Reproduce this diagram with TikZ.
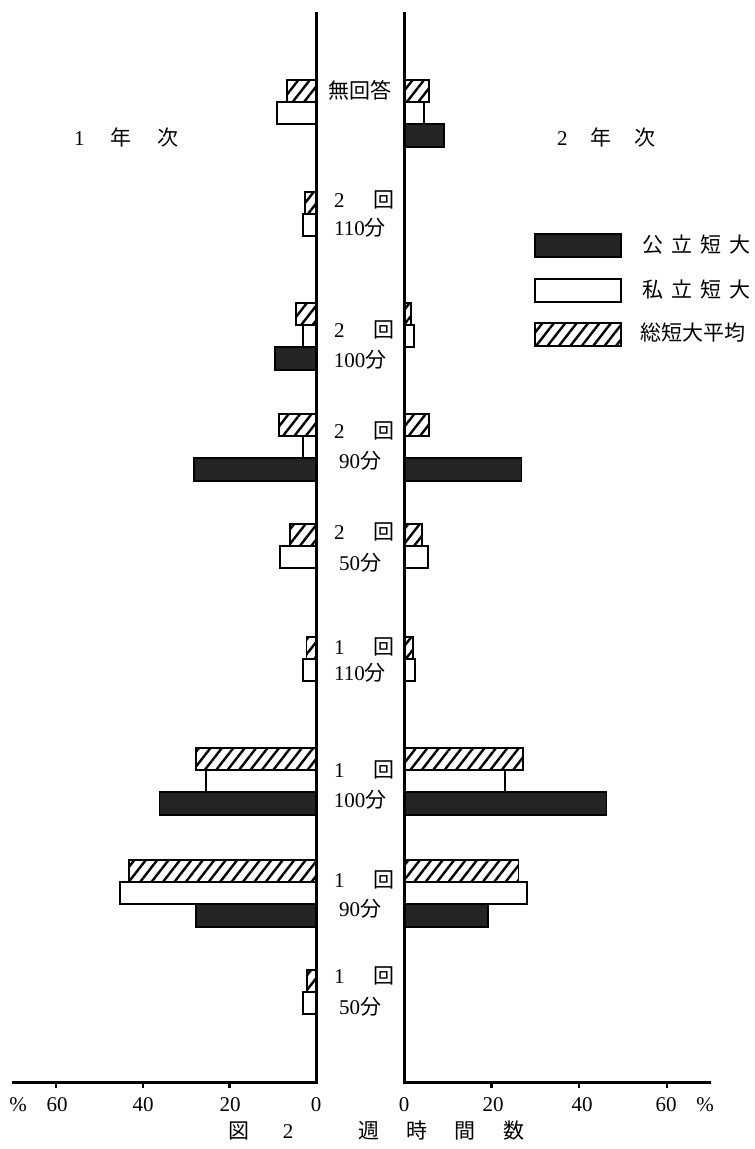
\documentclass[tikz,border=0pt]{standalone}
\usepackage{fontspec}
\setmainfont{Liberation Serif}
\newfontfamily\jp{Noto Sans CJK JP}
\usetikzlibrary{patterns.meta}
\tikzset{
  axisline/.style={line width=3pt},
  hatchbar/.style={draw,line width=1.8pt,pattern={Lines[angle=52,distance=9pt,line width=2.4pt]}},
  whitebar/.style={draw,line width=1.8pt,fill=white},
  darkbar/.style={draw,line width=1.8pt,fill=black!86},
  lab/.style={font=\fontsize{21}{23}\selectfont,inner sep=0pt}
}

\begin{document}
\begin{tikzpicture}[x=1pt,y=-1pt]
\useasboundingbox (0,0) rectangle (755,1149);
\foreach \yy/\lh/\lw/\ld/\rh/\rw/\rd in {80/6.7/9/0/5.7/4.6/9, 192/2.5/3/0/0/0/0,
    303/4.6/3/9.5/1.5/2.2/0, 414/8.5/3/28/5.7/0/26.7, 524/6/8.3/0/4/5.5/0,
    637/2.2/3/0/2/2.5/0, 748/27.6/25.3/36/27/23/46, 860/43/45/27.5/26/28/19,
    970/2/3/0/0/0/0}{
  \draw[whitebar] ({316-4.35*\lw},{\yy+22}) rectangle (316,{\yy+44});
  \draw[whitebar] (404,{\yy+22}) rectangle ({404+4.4*\rw},{\yy+44});
  \draw[hatchbar] ({316-4.35*\lh},\yy) rectangle (316,{\yy+22});
  \draw[hatchbar] (404,\yy) rectangle ({404+4.4*\rh},{\yy+22});
  \draw[darkbar] ({316-4.35*\ld},{\yy+44}) rectangle (316,{\yy+67});
  \draw[darkbar] (404,{\yy+44}) rectangle ({404+4.4*\rd},{\yy+67});
}
\draw[axisline] (316,12) -- (316,1082) -- (12,1082);
\draw[axisline] (404,12) -- (404,1082) -- (711,1082);
\foreach \p in {20,40,60}{
  \draw[line width=2.5pt] ({316-4.33*\p},1082) -- ++(0,6);
  \draw[line width=2.5pt] ({404+4.38*\p},1082) -- ++(0,6);
}

\node[lab] (noans) at (360,90) {\jp 無回答};
\foreach \n/\m/\ya/\yb [count=\i] in {2/110/200/228, 2/100/330/360, 2/90/431/461,
    2/50/532/563, 1/110/647/673, 1/100/770/800, 1/90/880/909, 1/50/976/1007}{
  \node[lab,anchor=west] (times\i) at (334,\ya) {\n\hspace{1.35em}{\jp 回}};
  \node[lab] (mins\i) at (360,\yb) {\m{\jp 分}};
}

\node[lab,anchor=west] (year1) at (74,137) {1\hspace{1.25em}{\jp 年}\hspace{1.2em}{\jp 次}};
\node[lab,anchor=west] (year2) at (557,137) {2\hspace{1.1em}{\jp 年}\hspace{1.1em}{\jp 次}};

\draw[darkbar] (535,234) rectangle (621,257);
\draw[whitebar] (535,279) rectangle (621,302);
\draw[hatchbar] (535,323) rectangle (621,346);
\node[lab,anchor=west] (public) at (642,245) {\jp 公\hspace{.38em}立\hspace{.38em}短\hspace{.38em}大};
\node[lab,anchor=west] (private) at (642,290) {\jp 私\hspace{.38em}立\hspace{.38em}短\hspace{.38em}大};
\node[lab,anchor=west] (average) at (640,333) {\jp 総短大平均};

\node[lab] (pctl) at (18,1105) {\%};
\node[lab] (l60) at (57,1105) {60};
\node[lab] (l40) at (143,1105) {40};
\node[lab] (l20) at (230,1105) {20};
\node[lab] (l0) at (316,1105) {0};
\node[lab] (r0) at (404,1105) {0};
\node[lab] (r20) at (493,1105) {20};
\node[lab] (r40) at (582,1105) {40};
\node[lab] (r60) at (666,1105) {60};
\node[lab] (pctr) at (705,1105) {\%};

\node[lab,anchor=west] (title) at (228,1131) {{\jp 図}\hspace{1.6em}2\hspace{3.1em}{\jp 週}\hspace{1.3em}{\jp 時}\hspace{1.3em}{\jp 間}\hspace{1.3em}{\jp 数}};
\end{tikzpicture}
\end{document}
